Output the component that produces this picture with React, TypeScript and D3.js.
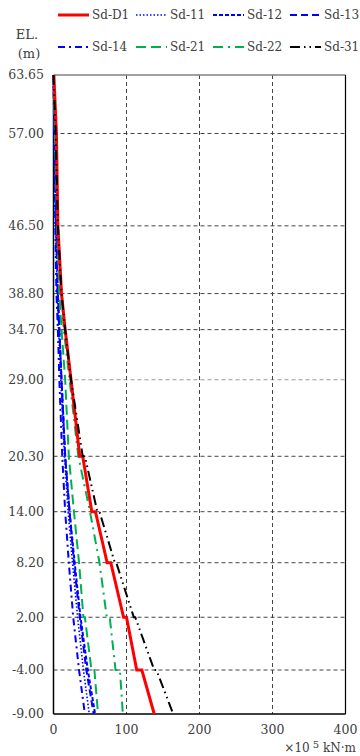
import React from "react";
import * as d3 from "d3";

const yTicks = [63.65, 57.0, 46.5, 38.8, 34.7, 29.0, 20.3, 14.0, 8.2, 2.0, -4.0, -9.0];
const xTicks = [0, 100, 200, 300, 400];

const sdD1: [number, number][] = [
  [63.65, 0.5], [57, 4], [46.5, 6], [38.8, 11], [34.7, 16], [29, 24],
  [20.3, 36], [20.3, 40], [14, 52.5], [14, 57.5], [8.2, 73.5], [8.2, 78.5],
  [2, 96], [2, 100], [-4, 114], [-4, 121], [-9, 138],
];
const sd11: [number, number][] = [
  [63.65, 0], [57, 1], [46.5, 3], [38.8, 5], [34.7, 7], [29, 10],
  [20.3, 15], [14, 20], [8.2, 26], [2, 33], [-4, 41], [-9, 49],
];
const sd12: [number, number][] = [
  [63.65, 0], [57, 1.5], [46.5, 3.5], [38.8, 6], [34.7, 8], [29, 11],
  [20.3, 16], [14, 22], [8.2, 29], [2, 37], [-4, 47], [-9, 57],
];
const sd13: [number, number][] = [
  [63.65, 0], [57, 1.5], [46.5, 3.5], [38.8, 6], [34.7, 8], [29, 11],
  [20.3, 16], [14, 22], [8.2, 28], [2, 36], [-4, 45], [-9, 55],
];
const sd14: [number, number][] = [
  [63.65, 0], [57, 1], [46.5, 2.5], [38.8, 4], [34.7, 6], [29, 8],
  [20.3, 12], [14, 16], [8.2, 21], [2, 27], [-4, 35], [-9, 43],
];
const sd21: [number, number][] = [
  [63.65, 0], [57, 2], [46.5, 5], [38.8, 8], [34.7, 11], [29, 16],
  [20.3, 21], [14, 28], [8.2, 35], [2, 41], [2, 43], [-4, 52], [-4, 56], [-9, 61],
];
const sd22: [number, number][] = [
  [63.65, 0], [57, 3], [46.5, 6], [38.8, 11], [34.7, 14], [29, 22],
  [20.3, 34], [14, 50], [8.2, 63], [2, 73], [2, 77], [-4, 85], [-4, 91], [-9, 95],
];
const sd31: [number, number][] = [
  [63.65, 0], [57, 3], [46.5, 6], [38.8, 11], [34.7, 16], [29, 24],
  [20.3, 40], [20.3, 43], [14, 60], [14, 63], [8.2, 84], [8.2, 86],
  [2, 110], [2, 112], [-4, 138], [-4, 141], [-9, 164],
];

const seriesNames = ["Sd-D1", "Sd-11", "Sd-12", "Sd-13", "Sd-14", "Sd-21", "Sd-22", "Sd-31"];
const seriesData = [sdD1, sd11, sd12, sd13, sd14, sd21, sd22, sd31];

const RED = "#ff0000";
const BLUE = "#0000ff";
const GREEN = "#00b050";
const styles = [
  { color: RED, width: 3, dash: "" },
  { color: BLUE, width: 1.6, dash: "1.5,2" },
  { color: BLUE, width: 2, dash: "4,2" },
  { color: BLUE, width: 2, dash: "7,4" },
  { color: BLUE, width: 2, dash: "7,4,2,4" },
  { color: GREEN, width: 2, dash: "10,5" },
  { color: GREEN, width: 2, dash: "10,5,2,5" },
  { color: "#000000", width: 2, dash: "10,4,1.5,4,1.5,4" },
];

const W = 360;
const H = 756;
const left = 53.5;
const right = 345.5;
const top = 75;
const bottom = 714;
const FONT = "'DejaVu Serif', serif";
const TXT = "#404040";

export default function App() {
  const x = d3.scaleLinear().domain([0, 400]).range([left, right]);
  const y = d3.scaleLinear().domain([63.65, -9]).range([top, bottom]);
  const line = d3
    .line<[number, number]>()
    .x((d) => x(d[1]))
    .y((d) => y(d[0]));

  const legendCols = [58, 136, 213, 290];
  const legendRows = [15, 47];
  const textStyle = { fontFamily: FONT };

  return (
    <svg
      width={W}
      height={H}
      style={{ position: "absolute", left: 0, top: 0, background: "#fff" }}
    >
      <rect x={0} y={0} width={W} height={H} fill="#fff" />
      {/* legend */}
      {seriesNames.map((name, i) => {
        const cx = legendCols[i % 4];
        const cy = legendRows[Math.floor(i / 4)];
        const s = styles[i];
        return (
          <g key={name}>
            <line
              x1={cx}
              x2={cx + 31}
              y1={cy}
              y2={cy}
              stroke={s.color}
              strokeWidth={s.width}
              strokeDasharray={s.dash}
            />
            <text x={cx + 34} y={cy} dy="0.35em" fontSize={12} fill={TXT} style={textStyle}>
              {name}
            </text>
          </g>
        );
      })}
      <text x={27} y={34} dy="0.35em" fontSize={13} textAnchor="middle" fill={TXT} style={textStyle}>
        EL.
      </text>
      <text x={29} y={53} dy="0.35em" fontSize={13} textAnchor="middle" fill={TXT} style={textStyle}>
        (m)
      </text>

      {/* grid */}
      {yTicks.slice(1, -1).map((t) => (
        <line
          key={"gy" + t}
          x1={left}
          x2={right}
          y1={y(t)}
          y2={y(t)}
          stroke={t === 29 ? "#999" : "#444"}
          strokeWidth={1}
          strokeDasharray="4,3"
        />
      ))}
      {xTicks.slice(1, -1).map((t) => (
        <line
          key={"gx" + t}
          x1={x(t)}
          x2={x(t)}
          y1={top}
          y2={bottom}
          stroke="#444"
          strokeWidth={1}
          strokeDasharray="4,3"
        />
      ))}

      {/* frame */}
      <line x1={left} x2={right} y1={top} y2={top} stroke="#808080" strokeWidth={1.5} />
      <line x1={right} x2={right} y1={top} y2={bottom} stroke="#000" strokeWidth={1.2} />
      <line x1={left} x2={right} y1={bottom} y2={bottom} stroke="#000" strokeWidth={1.5} />
      <line x1={left} x2={left} y1={top} y2={bottom} stroke="#000" strokeWidth={1.5} />

      {/* series */}
      {[1, 2, 3, 4, 5, 6, 0, 7].map((i) => (
        <path
          key={seriesNames[i]}
          d={line(seriesData[i]) || ""}
          fill="none"
          stroke={styles[i].color}
          strokeWidth={styles[i].width}
          strokeDasharray={styles[i].dash}
          strokeLinejoin="miter"
        />
      ))}

      {/* y tick labels */}
      {yTicks.map((t) => (
        <text
          key={"yl" + t}
          x={44}
          y={y(t)}
          dy="0.35em"
          fontSize={12.5}
          textAnchor="end"
          fill={TXT}
          style={textStyle}
        >
          {t.toFixed(2)}
        </text>
      ))}
      {/* x tick labels */}
      {xTicks.map((t) => (
        <text
          key={"xl" + t}
          x={x(t)}
          y={730}
          dy="0.35em"
          fontSize={12.5}
          textAnchor="middle"
          fill={TXT}
          style={textStyle}
        >
          {t}
        </text>
      ))}
      <text x={356} y={748} dy="0.35em" fontSize={12} textAnchor="end" fill={TXT} style={textStyle}>
        ×10<tspan dy="-4" fontSize={10}> 5</tspan>
        <tspan dy="4"> kN·m</tspan>
      </text>
    </svg>
  );
}
